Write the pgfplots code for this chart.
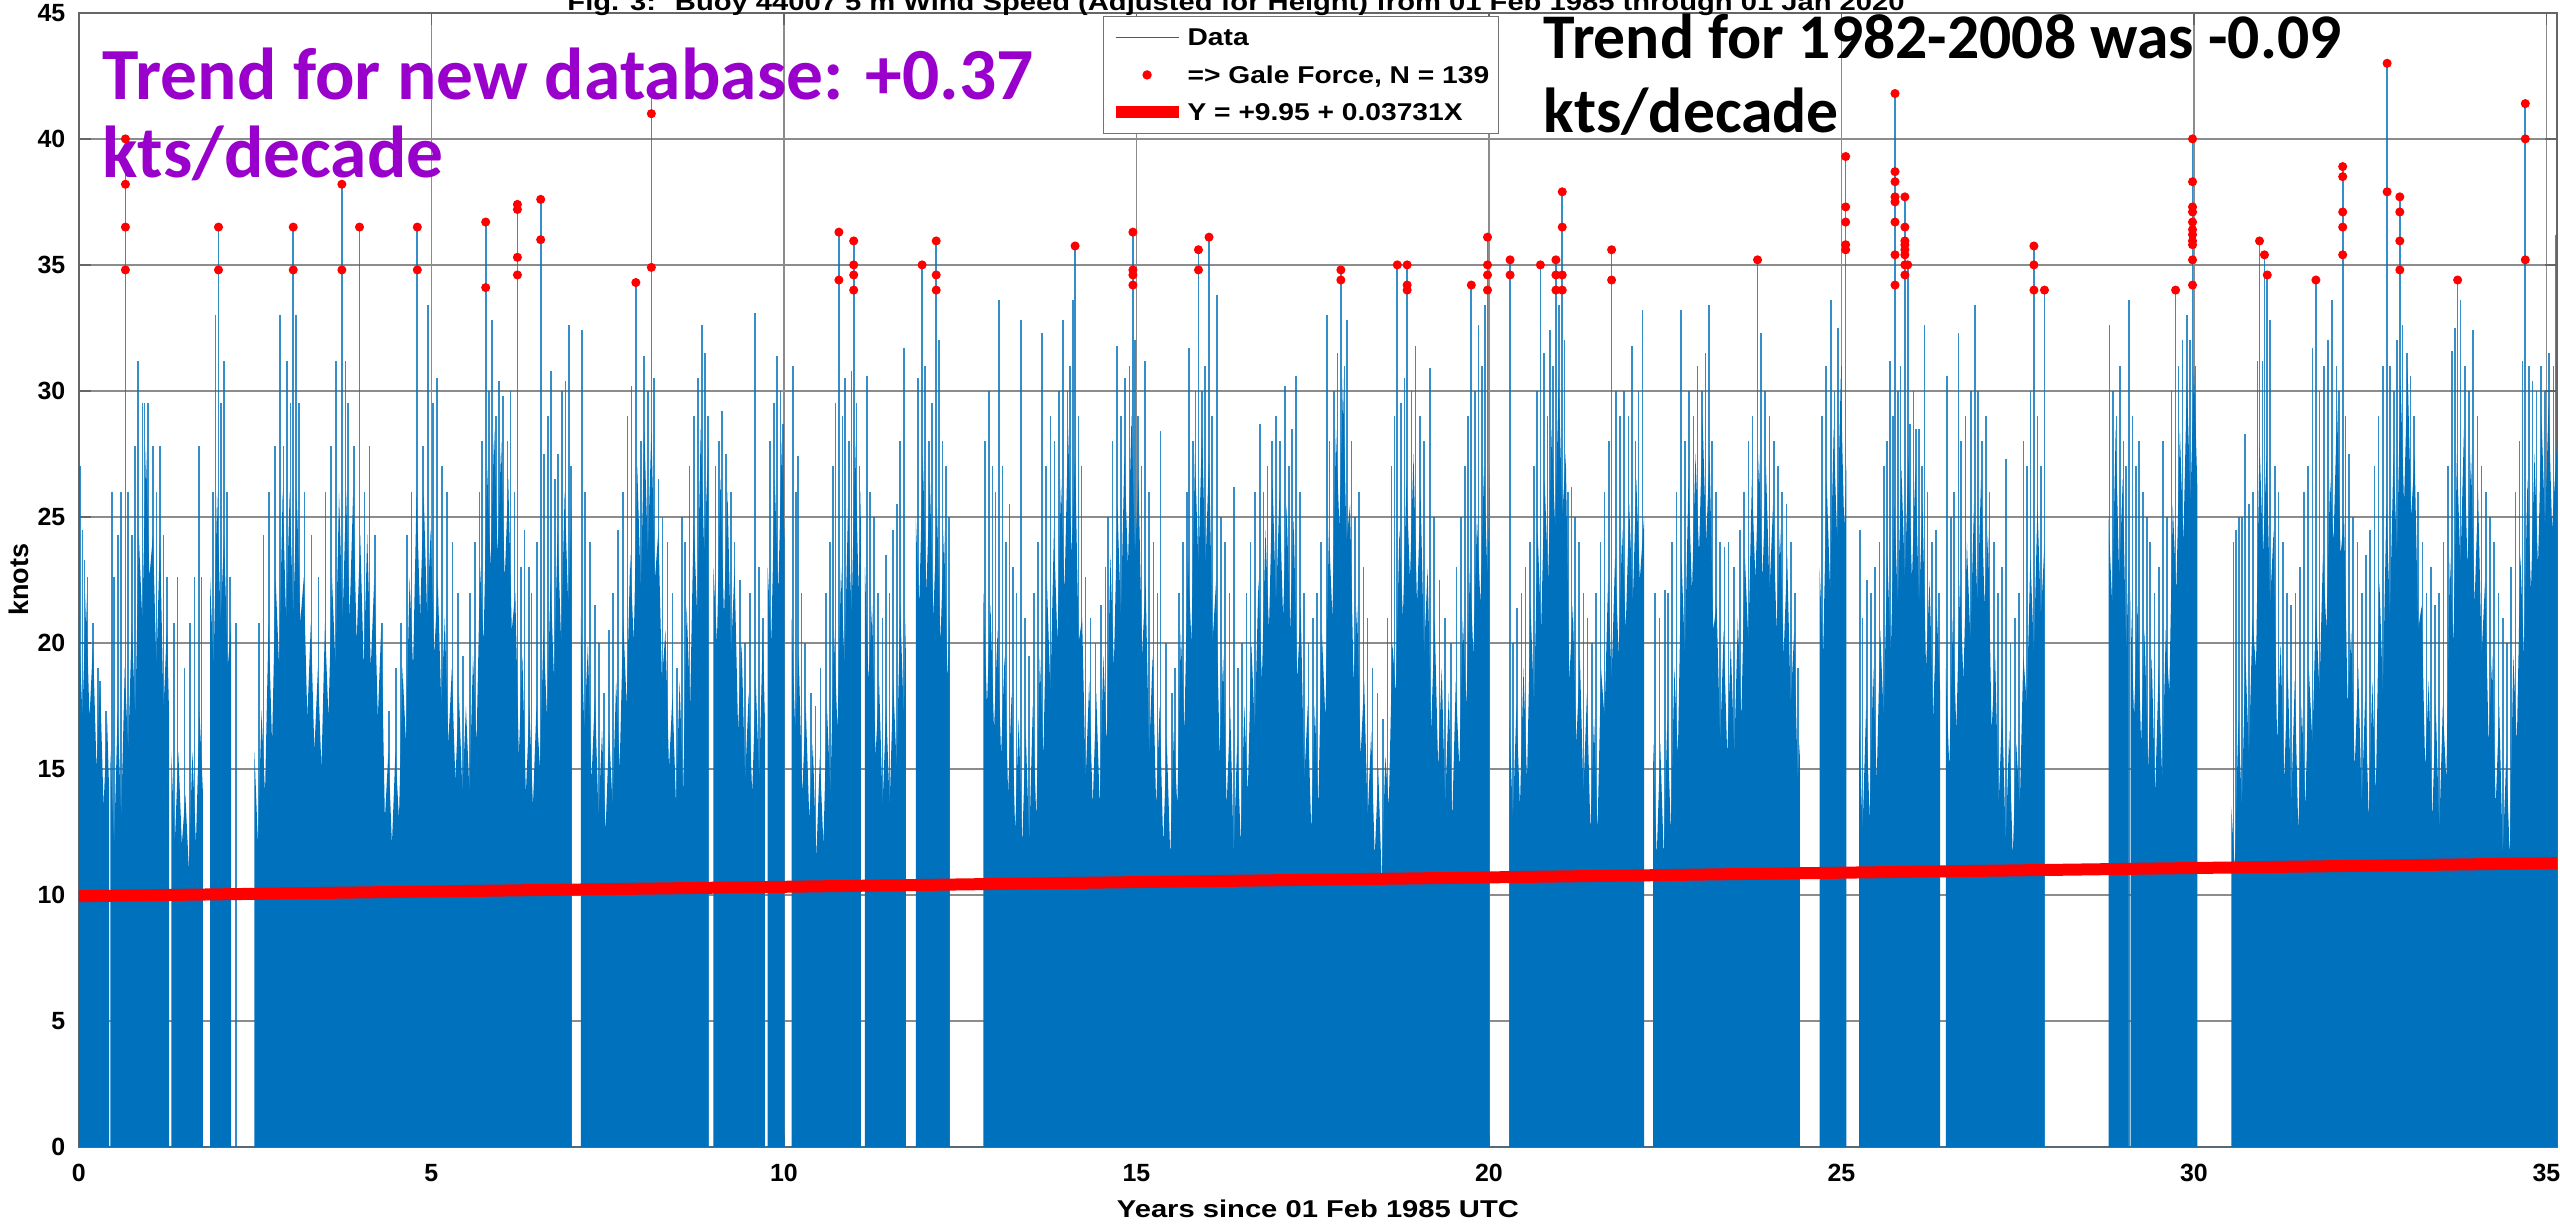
\documentclass[border=0pt]{standalone}
\usepackage{pgfplots}
\pgfplotsset{compat=1.18}
\usepackage{fontspec}
\setmainfont{Liberation Sans}
\newfontfamily\mlab[FakeStretch=1.2]{Liberation Sans}
\newfontfamily\mleg[FakeStretch=1.16]{Liberation Sans}
\newfontfamily\calib{Carlito}
\definecolor{mblue}{RGB}{0,114,189}
\definecolor{purp}{RGB}{153,0,204}
\newcommand\tickfont{\fontsize{8.3}{10}\selectfont\bfseries}
\newcommand\labfont{\mlab\fontsize{8.1}{10}\selectfont\bfseries}
\newcommand\legfont{\mleg\fontsize{8.1}{10}\selectfont\bfseries}
\begin{document}
\begin{tikzpicture}
\begin{axis}[
 name=ax,
 scale only axis, width=826pt, height=378pt,
 xmin=0, xmax=35.15, ymin=0, ymax=45,
 xtick={0,5,...,35}, ytick={0,5,...,45},
 grid=major, major grid style={black!45, line width=0.45pt},
 axis line style={black!60, line width=0.5pt},
 tick style={black!60, line width=0.5pt},
 major tick length=4pt, tick align=inside,
 /pgf/number format/assume math mode=true,
 ticklabel style={font=\tickfont},
 xticklabel style={yshift=-2.2pt},
 yticklabel style={xshift=-1pt},
 xlabel={Years since 01 Feb 1985 UTC},
 ylabel={knots},
 xlabel style={font=\labfont, at={(axis description cs:0.5,-0.0547)}, anchor=center},
 ylabel style={font=\fontsize{9}{10}\selectfont\bfseries, at={(axis description cs:-0.0242,0.5)}, anchor=center},
 legend cell align=left,
 legend style={at={(axis description cs:0.4132,0.9974)}, anchor=north west,
   draw=black!55, line width=0.5pt, fill=white, font=\legfont,
   inner xsep=2pt, inner ysep=1.2pt, row sep=1pt,
   nodes={inner sep=1pt, text depth=0.2em, text height=0.75em}},
 legend image code/.code={\draw[mark repeat=2,mark phase=2,#1] plot coordinates {(0pt,0pt)(10.5pt,0pt)(21pt,0pt)};},
]
% legend entries
\addlegendimage{mblue, line width=0.4pt}
\addlegendentry{Data}
\addlegendimage{only marks, mark=*, red, mark size=1.3pt}
\addlegendentry{=> Gale Force, N = 139}
\addlegendimage{red, line width=4pt}
\addlegendentry{Y = +9.95 + 0.03731X}

% body of the wind-speed series (dense part)
\addplot[fill=mblue, draw=none, forget plot] coordinates {
(0,0)(0,21)(0.05,17)(0.1,22)(0.15,17)(0.2,20)(0.25,15)(0.3,18.5)(0.35,13.5)(0.4,17)(0.43,14)(0.43,0)
(0.445,0)(0.445,15.7)(0.5,12)(0.55,17.3)(0.6,13)(0.65,19)(0.7,15.7)(0.75,20.8)(0.8,17)(0.85,24.3)(0.9,20.8)(0.95,27.8)(1.0,22.6)(1.05,24.3)(1.1,19)(1.15,24.3)(1.2,17.3)(1.25,20.8)(1.28,17)(1.28,0)
(1.31,0)(1.31,15.7)(1.36,12)(1.41,15.7)(1.46,12)(1.51,14)(1.56,11)(1.61,15.7)(1.66,12)(1.71,17.3)(1.76,14)(1.76,0)
(1.86,0)(1.86,22.6)(1.91,19)(1.96,26)(2.01,20.8)(2.06,24.3)(2.11,19)(2.16,20.8)(2.16,0)
(2.49,0)(2.49,15.7)(2.54,12)(2.59,17.3)(2.64,14)(2.69,20.8)(2.74,16)(2.79,22.6)(2.84,19)(2.89,26)(2.94,20.8)(2.99,26)(3.04,21)(3.09,26)(3.14,20.8)(3.19,22.6)(3.24,17)(3.29,20.8)(3.34,15.7)(3.39,19)(3.44,15)(3.49,20.8)(3.54,17)(3.59,22.6)(3.64,19)(3.69,26)(3.74,20.8)(3.79,26)(3.84,21)(3.89,26)(3.94,20)(3.99,24.3)(4.04,19)(4.09,24.3)(4.14,19)(4.19,22.6)(4.24,17)(4.29,20.8)(4.34,13)(4.39,15.7)(4.44,12)(4.49,15.7)(4.54,13)(4.59,19)(4.64,16)(4.69,22.6)(4.74,19)(4.79,26)(4.84,21)(4.89,26)(4.94,21)(4.99,24.5)(5.04,19.5)(5.09,22.5)(5.14,17.5)(5.19,21)(5.24,16)(5.29,19)(5.34,14.5)(5.39,18)(5.44,14)(5.49,17.5)(5.54,14)(5.59,19.5)(5.64,16)(5.69,23)(5.74,20)(5.79,27)(5.84,23)(5.89,28.5)(5.94,23.5)(5.99,28)(6.04,22.5)(6.09,26.5)(6.14,20.5)(6.19,22)(6.24,15.5)(6.29,19.5)(6.34,14)(6.39,17.5)(6.44,13.5)(6.49,17.5)(6.54,15)(6.59,20.5)(6.64,17)(6.69,22.5)(6.74,18.5)(6.79,24.5)(6.84,20)(6.89,26)(6.94,21.5)(6.99,25.5)(6.99,0)
(7.12,0)(7.12,21)(7.17,16.5)(7.22,20)(7.27,14.5)(7.32,18)(7.37,13)(7.42,16.5)(7.47,12.5)(7.52,16.5)(7.57,13.5)(7.62,18.5)(7.67,15)(7.72,21)(7.77,17.5)(7.82,23.5)(7.87,20)(7.92,27)(7.97,22)(8.02,28.5)(8.07,23.5)(8.12,28.5)(8.17,22.5)(8.22,24.5)(8.27,18.5)(8.32,20.5)(8.37,15)(8.42,18)(8.47,13.5)(8.52,18.5)(8.57,14)(8.62,21.5)(8.67,17.5)(8.72,25)(8.77,21)(8.82,28.5)(8.87,23.5)(8.93,28)(8.93,0)
(9.0,0)(9.0,23)(9.05,20)(9.1,26.5)(9.15,21)(9.2,26)(9.25,19.5)(9.3,23)(9.35,16.5)(9.4,20)(9.45,14.5)(9.5,18)(9.55,14)(9.6,18.5)(9.65,14.5)(9.7,20.5)(9.73,17)(9.73,0)
(9.77,0)(9.77,23)(9.82,20)(9.87,26.5)(9.92,22)(9.97,28)(10.01,24)(10.01,0)
(10.11,0)(10.11,21)(10.16,16.5)(10.21,19.5)(10.26,14)(10.31,17.5)(10.36,13)(10.41,16)(10.46,11.5)(10.51,15.5)(10.56,12)(10.61,17.5)(10.66,14)(10.71,20.5)(10.76,16.5)(10.81,23)(10.86,19)(10.91,25.5)(10.96,21)(11.01,28)(11.06,22)(11.09,26)(11.09,0)
(11.15,0)(11.15,23)(11.2,18.5)(11.25,21.5)(11.3,15.5)(11.35,18.5)(11.4,13.5)(11.45,17.5)(11.5,13.5)(11.55,18.5)(11.6,15)(11.65,21.5)(11.7,17)(11.73,21)(11.73,0)
(11.87,0)(11.87,25)(11.92,21.5)(11.97,27.5)(12.02,22)(12.07,26.5)(12.12,21)(12.17,25.5)(12.22,20)(12.27,24.5)(12.32,18.5)(12.35,21)(12.35,0)
(12.83,0)(12.83,22)(12.88,17.5)(12.93,21.5)(12.98,16.5)(13.03,20.5)(13.08,15.5)(13.13,19.5)(13.18,14)(13.23,18)(13.28,12.5)(13.33,17)(13.38,12)(13.43,16.5)(13.48,12)(13.53,17.5)(13.58,13)(13.63,19.5)(13.68,15.5)(13.73,22.5)(13.78,18)(13.83,24.5)(13.88,20)(13.93,26.5)(13.98,22)(14.03,28.5)(14.08,23.5)(14.13,27.5)(14.18,20)(14.23,21)(14.28,14.5)(14.33,18.5)(14.38,13.5)(14.43,18)(14.48,13.5)(14.53,19.5)(14.58,16)(14.63,23.5)(14.68,19)(14.73,25.5)(14.78,21)(14.83,27.5)(14.88,23)(14.93,29)(14.98,23.5)(15.03,26.5)(15.08,19.5)(15.13,22.5)(15.18,15.5)(15.23,19.5)(15.28,13.5)(15.33,17.5)(15.38,12)(15.43,16.2)(15.48,11.5)(15.53,16.5)(15.58,13.5)(15.63,20.5)(15.68,16.5)(15.73,23.5)(15.78,20)(15.83,27.5)(15.88,23)(15.93,28.5)(15.98,23)(16.03,27.5)(16.08,20)(16.13,22.5)(16.18,15.5)(16.23,19.5)(16.28,13.5)(16.33,17.5)(16.38,11.5)(16.43,16.2)(16.48,12)(16.53,17.5)(16.58,14)(16.63,20)(16.68,16.5)(16.73,22.5)(16.78,18.5)(16.83,24.5)(16.88,20.5)(16.93,26.5)(16.98,21.5)(17.03,26)(17.08,21)(17.13,25.5)(17.18,20.5)(17.23,25)(17.28,18.5)(17.33,21.5)(17.38,14.5)(17.43,17.5)(17.48,12.5)(17.53,17.5)(17.58,13.5)(17.63,20.5)(17.68,17)(17.73,24.5)(17.78,21)(17.83,28.5)(17.88,24.5)(17.93,30.5)(17.98,24)(18.03,25.5)(18.08,18.5)(18.13,21.5)(18.18,15.5)(18.23,18.5)(18.28,13)(18.33,16.5)(18.38,11.5)(18.43,15)(18.48,10.5)(18.53,15.5)(18.58,13.5)(18.63,20)(18.68,18)(18.73,24.5)(18.78,21)(18.83,26.5)(18.88,22.5)(18.93,27.5)(18.98,21.5)(19.03,26)(19.08,19.5)(19.13,23)(19.18,16.5)(19.23,21)(19.28,15)(19.33,19)(19.38,13.5)(19.43,18)(19.48,13)(19.53,18.5)(19.58,15)(19.63,21)(19.68,17.5)(19.73,23)(19.78,19.5)(19.83,25)(19.88,21.5)(19.93,27)(19.98,22.5)(20.01,27)(20.01,0)
(20.29,0)(20.29,17)(20.34,13)(20.39,17.5)(20.44,13.5)(20.49,19)(20.54,14.5)(20.59,21.5)(20.64,17.5)(20.69,24.5)(20.74,20.5)(20.79,26.5)(20.84,22.5)(20.89,28.5)(20.94,24.5)(20.99,30.5)(21.04,25)(21.09,27.5)(21.14,18.5)(21.19,21.5)(21.24,16)(21.29,19.5)(21.34,14)(21.39,18)(21.44,12.5)(21.49,17)(21.54,12.5)(21.59,19)(21.64,17)(21.69,22.5)(21.74,18.5)(21.79,23.5)(21.84,19.5)(21.89,24.5)(21.94,20.5)(21.99,25.5)(22.04,21.5)(22.09,26.5)(22.14,22.5)(22.2,25)(22.2,0)
(22.33,0)(22.33,16)(22.38,11.5)(22.43,16)(22.48,11.5)(22.53,17)(22.58,12.5)(22.63,19)(22.68,15.5)(22.73,23.5)(22.78,19.5)(22.83,26.5)(22.88,22)(22.93,27.5)(22.98,23.5)(23.03,29)(23.08,24)(23.13,27.5)(23.18,20.5)(23.23,21.5)(23.28,16)(23.33,20.5)(23.38,15.5)(23.43,20)(23.48,15.5)(23.53,21)(23.58,17)(23.63,23.5)(23.68,20)(23.73,26.5)(23.78,22.5)(23.83,27.5)(23.88,22.5)(23.93,27)(23.98,22)(24.03,25.5)(24.08,20.5)(24.13,24.5)(24.18,19.5)(24.23,23.5)(24.28,17.5)(24.33,20.5)(24.38,14.5)(24.41,16)(24.41,0)
(24.69,0)(24.69,23)(24.74,19.5)(24.79,26.5)(24.84,22)(24.89,28.5)(24.94,24)(24.99,30.5)(25.04,24.5)(25.07,27)(25.07,0)
(25.25,0)(25.25,17)(25.3,12.5)(25.35,17.5)(25.4,13)(25.45,19)(25.5,14.5)(25.55,20.5)(25.6,17)(25.65,23.5)(25.7,19.5)(25.75,25.5)(25.8,21.5)(25.85,27)(25.9,22.5)(25.95,27.5)(26.0,22.5)(26.05,27)(26.1,21.5)(26.15,25.5)(26.2,19)(26.25,22.5)(26.3,17)(26.35,21.5)(26.4,18)(26.4,0)
(26.48,0)(26.48,19)(26.53,15)(26.58,21)(26.63,16.5)(26.68,22.5)(26.73,18.5)(26.78,24)(26.83,20)(26.88,25.5)(26.93,21.5)(26.98,26.5)(27.03,21.5)(27.08,24.5)(27.13,16.5)(27.18,19.5)(27.23,13.5)(27.28,17.5)(27.33,12)(27.38,16.5)(27.43,11.5)(27.48,16)(27.53,13.5)(27.58,19.5)(27.63,17.5)(27.68,23.5)(27.73,19.5)(27.78,25.5)(27.83,21)(27.88,24)(27.88,0)
(28.79,0)(28.79,25)(28.84,21.5)(28.89,28.5)(28.94,22.5)(28.99,26.5)(29.04,19.5)(29.07,23)(29.07,0)
(29.1,0)(29.1,22)(29.15,17)(29.2,21.5)(29.25,16)(29.3,20.5)(29.35,15)(29.4,19.5)(29.45,14)(29.5,19)(29.55,14.5)(29.6,20.5)(29.65,18)(29.7,25.5)(29.75,22)(29.8,28.5)(29.85,24)(29.9,30.5)(29.95,25.5)(30.0,31)(30.05,26)(30.05,0)
(30.53,0)(30.53,13.5)(30.58,11)(30.63,17)(30.68,13.5)(30.73,19.5)(30.78,15.5)(30.83,21)(30.88,19)(30.93,28)(30.98,23.5)(31.03,27.5)(31.08,21.5)(31.13,24.5)(31.18,16)(31.23,20)(31.28,14.5)(31.33,19)(31.38,13.5)(31.43,18.5)(31.48,12.5)(31.53,17.5)(31.58,13.5)(31.63,19)(31.68,16)(31.73,21.5)(31.78,18)(31.83,23.5)(31.88,20.5)(31.93,26.5)(31.98,24)(32.03,29.5)(32.08,23.5)(32.13,25)(32.18,17.5)(32.23,20.5)(32.28,15)(32.33,19)(32.38,13.5)(32.43,18)(32.48,13)(32.53,18.5)(32.58,14)(32.63,22.5)(32.68,18)(32.73,25.5)(32.78,21)(32.83,27.5)(32.88,23.5)(32.93,30.5)(32.98,25.5)(33.03,31)(33.08,25)(33.13,27.5)(33.18,20.5)(33.23,21.5)(33.28,15)(33.33,18.5)(33.38,13)(33.43,17.5)(33.48,12.5)(33.53,17.5)(33.58,14.5)(33.63,23.5)(33.68,20)(33.73,27.5)(33.78,23)(33.83,28.5)(33.88,23)(33.93,27.5)(33.98,21.5)(34.03,26)(34.08,19.5)(34.13,22.5)(34.18,16)(34.23,19.5)(34.28,13.5)(34.33,17.5)(34.38,11.5)(34.43,15.5)(34.48,11.5)(34.53,19.5)(34.58,16)(34.63,23.5)(34.68,19.5)(34.73,26.5)(34.78,22)(34.83,27.5)(34.88,23)(34.93,29)(34.98,24.5)(35.03,29.5)(35.08,24.5)(35.15,28)(35.15,0)
} \closedcycle;

% individual peaks of the series
\addplot[ycomb, mblue, line width=0.55pt, opacity=0.8, forget plot] coordinates {
(0.02,27)(0.05,24.5)(0.08,23.3)(0.12,22.6)(0.2,20.8)(0.27,19)(0.3,18.5)(0.38,17.3)
(0.47,26)(0.5,22.6)(0.55,24.3)(0.6,26)(0.66,40)(0.7,26)(0.75,24.3)(0.8,27.8)(0.84,31.2)(0.9,29.5)(0.93,29.5)(0.98,29.5)(1.05,27.8)(1.1,26)(1.15,27.8)(1.2,24.3)(1.25,22.6)
(1.35,20.8)(1.4,22.6)(1.5,19)(1.58,20.8)(1.64,22.6)(1.7,27.8)(1.74,22.6)
(1.9,26)(1.94,33)(1.98,36.5)(2.02,29.5)(2.06,31.2)(2.1,26)(2.14,22.6)
(2.23,20.8)
(2.55,20.8)(2.62,24.3)(2.7,26)(2.78,27.8)(2.85,33)(2.9,27.8)(2.95,31.2)(3.0,29.5)(3.04,36.5)(3.08,33)(3.12,29.5)(3.2,26)(3.3,24.3)(3.4,22.6)(3.5,26)(3.58,27.8)(3.65,31.2)(3.73,38.2)(3.78,31.2)(3.82,29.5)(3.9,27.8)(3.98,36.5)(4.05,26)(4.12,27.8)(4.2,24.3)(4.3,20.8)(4.4,17.3)(4.5,19)(4.57,20.8)(4.65,24.3)(4.72,26)(4.8,36.5)(4.88,27.8)(4.95,33.4)(5.02,29.5)(5.08,30.5)(5.15,27)(5.22,26)(5.3,24)(5.38,22)(5.45,19.5)(5.55,22)(5.62,24)(5.68,26)(5.72,28)(5.77,36.7)(5.82,30)(5.86,32.8)(5.92,29)(5.96,30.4)(6.02,29.8)(6.08,28)(6.12,30)(6.18,26)(6.22,37.4)(6.27,23)(6.32,24.5)(6.38,23)(6.42,22)(6.5,24)(6.55,37.6)(6.6,27.5)(6.65,29)(6.7,30.8)(6.75,26.5)(6.8,27.5)(6.85,30)(6.9,30.4)(6.95,32.6)(6.98,27)
(7.14,32.4)(7.18,26)(7.25,24)(7.32,21.5)(7.38,20)(7.45,18)(7.52,20.5)(7.58,22)(7.65,24.5)(7.72,26)(7.78,29)(7.84,30.2)(7.9,34.3)(7.97,28)(8.02,31.4)(8.07,30)(8.12,41.8)(8.16,30.5)(8.22,26.5)(8.28,25)(8.35,24)(8.42,22)(8.48,19)(8.55,25)(8.6,24)(8.66,27)(8.72,29)(8.78,30.5)(8.84,32.6)(8.88,31.5)(8.92,29)
(9.03,27)(9.08,28)(9.12,29.2)(9.18,27.5)(9.25,26)(9.3,24)(9.38,22.5)(9.45,20)(9.52,22)(9.59,33.1)(9.65,23)(9.7,21)
(9.8,28)(9.86,29.5)(9.9,31.4)(9.95,30)(9.99,28.7)
(10.13,31)(10.17,26)(10.2,27.4)(10.25,22)(10.3,20)(10.38,18)(10.45,17.5)(10.52,19)(10.6,22)(10.65,24)(10.7,27)(10.73,29.5)(10.78,36.3)(10.83,29)(10.87,30.5)(10.92,28)(10.96,30.8)(10.99,35.95)(11.03,29.5)(11.07,27)
(11.18,30.6)(11.22,26)(11.28,25)(11.33,22)(11.4,21)(11.45,23.5)(11.5,22)(11.55,24.5)(11.6,25.5)(11.65,28)(11.7,31.7)
(11.9,30.5)(11.96,35)(12.0,31)(12.06,28)(12.1,29.5)(12.16,35.95)(12.2,32)(12.25,28)(12.3,27)(12.34,25)
(12.85,28)(12.91,30)(12.96,27)(13.0,26)(13.05,33.6)(13.1,27)(13.15,24)(13.2,25.5)(13.25,23)(13.3,22)(13.36,32.8)(13.42,21)(13.48,19.5)(13.55,22)(13.6,24)(13.66,32.3)(13.72,27)(13.78,29)(13.84,28)(13.9,30)(13.96,32.8)(14.02,30)(14.06,31)(14.1,33.6)(14.13,35.75)(14.18,29)(14.22,27)(14.28,22.6)(14.35,21)(14.42,20)(14.5,21.5)(14.56,23)(14.6,25)(14.66,28)(14.72,31.8)(14.78,29)(14.84,30.5)(14.9,31)(14.95,36.3)(14.98,32)(15.02,29)(15.07,27)(15.12,31.2)(15.18,26)(15.24,24)(15.3,22)(15.34,28.4)(15.42,20)(15.5,18)(15.55,19)(15.6,22)(15.66,24)(15.72,26)(15.75,31.7)(15.8,28)(15.84,30)(15.88,35.6)(15.93,30)(15.97,31)(16.03,36.1)(16.07,29)(16.14,33.8)(16.2,25)(16.26,24)(16.32,22)(16.38,26.2)(16.44,19)(16.5,20)(16.56,22)(16.62,24)(16.68,26)(16.75,28.7)(16.8,26)(16.86,27)(16.92,28)(16.98,29)(17.04,28)(17.11,30.2)(17.16,27)(17.21,28.5)(17.26,30.6)(17.32,26)(17.38,22)(17.44,20)(17.5,21)(17.56,22)(17.62,24)(17.7,33)(17.74,28)(17.8,30)(17.85,31.5)(17.9,34.8)(17.95,31)(17.99,32.8)(18.05,28)(18.1,25)(18.16,26)(18.22,23)(18.28,21)(18.35,19)(18.42,18)(18.5,17)(18.56,21)(18.62,27)(18.66,29)(18.7,35)(18.75,29.5)(18.8,30.5)(18.84,35)(18.9,30)(18.96,31.8)(19.02,29)(19.08,28)(19.16,30.9)(19.22,25)(19.3,22.5)(19.38,21)(19.46,20)(19.54,23)(19.6,25)(19.66,27)(19.7,29)(19.75,34.2)(19.8,30)(19.85,32.6)(19.9,31)(19.94,33.4)(19.98,36.1)
(20.3,35.2)(20.34,20)(20.4,21.4)(20.46,22)(20.52,23)(20.58,24)(20.64,27)(20.68,30)(20.73,35)(20.78,31.5)(20.83,29)(20.87,32.4)(20.91,31)(20.95,35.2)(20.99,33.4)(21.04,37.9)(21.07,32)(21.12,26)(21.17,26.2)(21.22,25)(21.28,24)(21.34,22)(21.4,21)(21.46,20)(21.52,22)(21.58,24)(21.64,26)(21.7,28)(21.74,35.6)(21.8,30)(21.86,29)(21.92,30)(21.98,29)(22.03,31.8)(22.08,28)(22.12,30)(22.18,33.2)
(22.36,22)(22.42,21)(22.5,22.1)(22.54,22)(22.6,24)(22.66,26)(22.72,33.2)(22.78,28)(22.84,30)(22.9,29)(22.96,31)(23.02,30)(23.07,31.5)(23.12,33.4)(23.16,28)(23.22,26)(23.28,24)(23.34,23.8)(23.4,24)(23.48,23)(23.56,24.5)(23.62,26)(23.68,28)(23.74,29)(23.81,35.2)(23.86,32.3)(23.92,30)(23.98,29)(24.04,28)(24.1,27)(24.16,26)(24.22,25.5)(24.28,24)(24.34,22)(24.38,19)
(24.72,29)(24.78,31)(24.85,33.6)(24.9,30)(24.95,32.5)(25.0,31)(25.06,39.3)
(25.26,24.5)(25.3,21)(25.36,22.5)(25.42,22)(25.48,23)(25.54,24)(25.6,27)(25.65,28)(25.69,31.2)(25.73,29)(25.76,41.8)(25.8,30)(25.84,31)(25.9,37.7)(25.94,35)(25.97,28.7)(26.02,30)(26.06,28.5)(26.1,28.5)(26.14,27)(26.18,32.6)(26.22,26)(26.28,24)(26.34,24.5)(26.38,22)
(26.5,30.6)(26.55,25)(26.6,26)(26.66,32.3)(26.7,28)(26.76,29)(26.84,30)(26.89,33.4)(26.94,30)(26.99,28)(27.05,29)(27.1,26)(27.16,24)(27.22,22)(27.28,23)(27.33,27.3)(27.4,20)(27.46,21)(27.52,22)(27.58,28)(27.63,27)(27.68,30)(27.73,35.75)(27.78,29)(27.83,27)(27.88,34)
(28.8,32.6)(28.85,30)(28.9,29)(28.95,31)(29.0,28)(29.04,27)(29.08,33.6)
(29.13,29)(29.18,27)(29.22,28)(29.28,26)(29.33,25)(29.38,24)(29.44,22)(29.5,23)(29.56,28)(29.62,25)(29.68,30)(29.74,34)(29.78,31)(29.84,32)(29.9,33)(29.94,32)(29.98,40)(30.02,31)
(30.56,24)(30.6,24.5)(30.64,25)(30.68,25)(30.72,28.3)(30.78,25.5)(30.84,26)(30.9,31.2)(30.93,35.95)(30.97,31.2)(31.0,35.4)(31.04,34.6)(31.08,32.8)(31.15,27)(31.2,26)(31.26,24)(31.32,22)(31.38,21.5)(31.44,22)(31.5,23)(31.56,26)(31.62,27)(31.68,31.7)(31.73,34.4)(31.78,30)(31.84,31)(31.9,32)(31.96,33.6)(32.02,31)(32.06,30)(32.11,38.9)(32.15,29)(32.2,27.5)(32.26,25)(32.32,24)(32.38,22)(32.44,23.5)(32.5,24.5)(32.56,27)(32.62,29)(32.68,31)(32.74,43)(32.78,31)(32.84,30)(32.88,32)(32.92,37.7)(32.96,32.6)(33.02,31.5)(33.07,30.6)(33.12,29)(33.18,26)(33.24,24)(33.3,22)(33.36,23)(33.42,21.5)(33.48,22)(33.54,24)(33.6,27)(33.66,31.6)(33.7,32.5)(33.74,34.4)(33.78,33.6)(33.84,31)(33.9,30)(33.96,32.4)(34.02,29)(34.08,27)(34.14,26)(34.2,25)(34.26,24)(34.32,22)(34.38,21)(34.44,20)(34.5,23)(34.56,26)(34.62,28)(34.66,31.2)(34.7,41.4)(34.75,31)(34.8,30.4)(34.86,30)(34.92,31)(34.98,30)(35.04,31.5)(35.1,31)(35.13,36.2)
};

% linear trend
\addplot[red, line width=4pt, forget plot] coordinates {(0,9.95)(35.15,11.26)};

% gale force points
\addplot[only marks, mark=*, red, mark size=1.3pt, forget plot] coordinates {
(0.66,40.0)(0.66,38.2)(0.66,36.5)(0.66,34.8)
(1.98,36.5)(1.98,34.8)
(3.04,36.5)(3.04,34.8)
(3.73,38.2)(3.73,34.8)
(3.98,36.5)
(4.80,36.5)(4.80,34.8)
(5.77,36.7)(5.77,34.1)
(6.22,37.4)(6.22,37.2)(6.22,35.3)(6.22,34.6)
(6.55,37.6)(6.55,36.0)
(7.90,34.3)
(8.12,41.0)(8.12,34.9)
(10.78,36.3)(10.78,34.4)
(10.99,35.95)(10.99,35.0)(10.99,34.6)(10.99,34.0)
(11.96,35.0)
(12.16,35.95)(12.16,34.6)(12.16,34.0)
(14.13,35.75)
(14.95,36.3)(14.95,34.8)(14.95,34.6)(14.95,34.2)
(15.88,35.6)(15.88,34.8)
(16.03,36.1)
(17.90,34.8)(17.90,34.4)
(18.70,35.0)
(18.84,35.0)(18.84,34.2)(18.84,34.0)
(19.75,34.2)
(19.98,36.1)(19.98,35.0)(19.98,34.6)(19.98,34.0)
(20.30,35.2)(20.30,34.6)
(20.73,35.0)
(20.95,35.2)(20.95,34.6)(20.95,34.0)
(21.04,37.9)(21.04,36.5)(21.04,34.6)(21.04,34.0)
(21.74,35.6)(21.74,34.4)
(23.81,35.2)
(25.06,39.3)(25.06,37.3)(25.06,36.7)(25.06,35.8)(25.06,35.6)
(25.76,41.8)(25.76,38.7)(25.76,38.3)(25.76,37.7)(25.76,37.5)(25.76,36.7)(25.76,35.4)(25.76,34.2)
(25.90,37.7)(25.90,36.5)(25.90,35.95)(25.90,35.8)(25.90,35.6)(25.90,35.4)(25.90,35.0)(25.90,34.6)
(25.94,35.0)
(27.73,35.75)(27.73,35.0)(27.73,34.0)
(27.88,34.0)
(29.74,34.0)
(29.98,40.0)(29.98,38.3)(29.98,37.3)(29.98,37.1)(29.98,36.7)(29.98,36.4)(29.98,36.2)(29.98,35.95)(29.98,35.8)(29.98,35.2)(29.98,34.2)
(30.93,35.95)
(31.00,35.4)
(31.04,34.6)
(31.73,34.4)
(32.11,38.9)(32.11,38.5)(32.11,37.1)(32.11,36.5)(32.11,35.4)
(32.74,43.0)(32.74,37.9)
(32.92,37.7)(32.92,37.1)(32.92,35.95)(32.92,34.8)
(33.74,34.4)
(34.70,41.4)(34.70,40.0)(34.70,35.2)
};

% text boxes
\node[anchor=base west, inner sep=0, text=purp, font=\calib\bfseries\fontsize{24.5}{28}\selectfont] at (axis cs:0.33,41.55) {Trend for new database: +0.37};
\node[anchor=base west, inner sep=0, text=purp, font=\calib\bfseries\fontsize{24.5}{28}\selectfont] at (axis cs:0.33,38.45) {kts/decade};
\node[anchor=base west, inner sep=0, text=black, font=\calib\bfseries\fontsize{21.2}{25}\selectfont] at (axis cs:20.77,43.17) {Trend for 1982-2008 was -0.09};
\node[anchor=base west, inner sep=0, text=black, font=\calib\bfseries\fontsize{21.2}{25}\selectfont] at (axis cs:20.77,40.24) {kts/decade};
\end{axis}
\node[anchor=base, inner sep=0, font=\labfont] at ([xshift=385.7pt, yshift=0.7pt]ax.north west) {Fig. 3:~ Buoy 44007 5 m Wind Speed (Adjusted for Height) from 01 Feb 1985 through 01 Jan 2020};
\pgfresetboundingbox
\path[use as bounding box] ([xshift=-26.3pt,yshift=-26pt]ax.south west) rectangle ([xshift=1pt,yshift=4.3pt]ax.north east);
\end{tikzpicture}
\end{document}
